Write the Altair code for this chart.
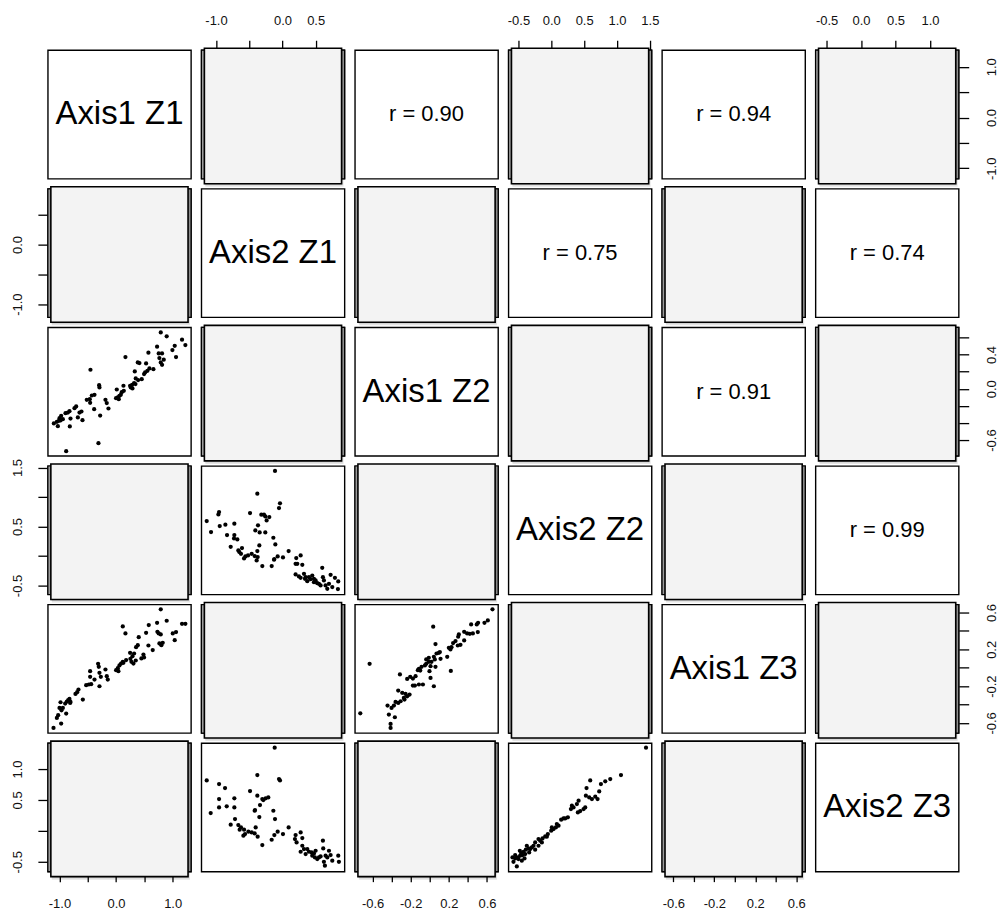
import altair as alt
import pandas as pd

FONT = "Liberation Sans"

VARS = ["Axis1 Z1", "Axis2 Z1", "Axis1 Z2", "Axis2 Z2", "Axis1 Z3", "Axis2 Z3"]
DOMAINS = [[-1.205, 1.325], [-1.22, 0.935], [-0.785, 0.717],
           [-0.652, 1.527], [-0.71, 0.687], [-0.66, 1.418]]
TICKS = [[-1.0, -0.5, 0.0, 0.5, 1.0],
         [-1.0, -0.5, 0.0, 0.5],
         [-0.6, -0.4, -0.2, 0.0, 0.2, 0.4, 0.6],
         [-0.5, 0.0, 0.5, 1.0, 1.5],
         [-0.6, -0.4, -0.2, 0.0, 0.2, 0.4, 0.6],
         [-0.5, 0.0, 0.5, 1.0]]
# labels shown on the x (top/bottom) and y (left/right) axes
XLABELS = [[-1.0, 0.0, 1.0], [-1.0, 0.0, 0.5], [-0.6, -0.2, 0.2, 0.6],
           [-0.5, 0.0, 0.5, 1.0, 1.5], [-0.6, -0.2, 0.2, 0.6], [-0.5, 0.0, 0.5, 1.0]]
YLABELS = [[-1.0, 0.0, 1.0], [-1.0, 0.0], [-0.6, 0.0, 0.4],
           [-0.5, 0.5, 1.5], [-0.6, -0.2, 0.2, 0.6], [-0.5, 0.5, 1.0]]

R_TEXT = {(0, 2): "r = 0.90", (0, 4): "r = 0.94", (1, 3): "r = 0.75",
          (1, 5): "r = 0.74", (2, 4): "r = 0.91", (3, 5): "r = 0.99"}

# Axis1 Z1 (x) vs Axis1 Z2 (y)
a_x = [0.79, 0.895, 1.166, 1.225, 0.725, 1.037, 0.996, 1.06, 0.572, 0.754, 0.813, 0.766, 0.843, 0.79, 0.813,
       0.166, 0.531, 0.384, 0.413, -0.452, 0.66, 0.59, 0.554, 0.513, 0.495, 0.331, 0.348, 0.454, 0.39, 0.319,
       0.343, 0.284, 0.26, 0.29, 0.248, 0.131, 0.137, 0.101, 0.013, 0.031, 0.06, 0.048, 0.0, 0.084, -0.299,
       -0.293, -0.381, -0.428, -0.464, -0.517, -0.458, -0.387, -0.187, -0.164, -0.134, -0.281, -0.311, -0.705,
       -0.734, -0.611, -0.646, -0.675, -0.593, -0.823, -0.852, -0.893, -0.97, -0.999, -1.011, -1.046, -1.099,
       -1.028, -0.817, -0.805, -0.881, -0.94, -0.981]
a_y = [0.658, 0.612, 0.573, 0.51, 0.491, 0.502, 0.452, 0.37, 0.421, 0.413, 0.413, 0.358, 0.339, 0.307, 0.28,
       0.37, 0.296, 0.307, 0.3, 0.222, 0.229, 0.237, 0.21, 0.19, 0.171, 0.202, 0.12, 0.112, 0.101, 0.066,
       0.054, 0.046, 0.015, 0.003, 0.035, 0.035, -0.024, -0.04, -0.009, -0.102, -0.083, -0.122, -0.11, -0.071,
       0.042, 0.015, -0.071, -0.079, -0.122, -0.129, -0.164, -0.239, -0.129, -0.168, -0.231, -0.313, -0.636,
       -0.207, -0.227, -0.266, -0.278, -0.336, -0.367, -0.262, -0.278, -0.286, -0.317, -0.344, -0.375, -0.387,
       -0.406, -0.437, -0.441, -0.348, -0.73, -0.356, -0.371]

# Axis2 Z1 (x) vs Axis2 Z2 (y)
b_x = [-0.112, -0.378, -0.037, -0.052, -0.488, -0.954, -0.964, -0.278, -0.318, -0.258, -0.198, -0.238, -0.368,
       -1.14, -1.075, -0.944, -0.859, -0.724, -0.834, -0.724, -0.729, -0.679, -0.779, -0.408, -0.343, -0.258,
       -0.137, -0.107, -0.348, -0.378, -0.388, -0.303, -0.162, -0.127, -0.072, -0.122, 0.008, 0.093, -0.463,
       -0.518, -0.558, -0.578, -0.624, -0.649, -0.609, -0.664, -0.418, -0.373, 0.208, 0.274, 0.198, 0.223,
       0.299, 0.198, 0.248, 0.274, 0.324, 0.339, 0.374, 0.399, 0.449, 0.474, 0.499, 0.524, 0.549, 0.599, 0.609,
       0.624, 0.649, 0.70, 0.725, 0.75, 0.79, 0.84, 0.835, 0.675, 0.574, 0.474, 0.424, 0.349]
b_y = [1.442, 1.057, 0.893, 0.814, 0.729, 0.746, 0.706, 0.701, 0.701, 0.672, 0.661, 0.604, 0.52, 0.593, 0.406,
       0.508, 0.531, 0.548, 0.355, 0.355, 0.299, 0.282, 0.157, 0.435, 0.401, 0.401, 0.31, 0.197, 0.18, 0.084,
       -0.075, -0.171, -0.171, -0.063, -0.007, -0.052, -0.024, 0.084, 0.038, 0.01, -0.007, -0.041, 0.038,
       0.067, 0.135, 0.095, 0.0, -0.018, -0.035, 0.01, -0.131, -0.131, -0.148, -0.312, -0.346, -0.369, -0.301,
       -0.386, -0.426, -0.358, -0.33, -0.386, -0.414, -0.46, -0.471, -0.199, -0.358, -0.414, -0.499, -0.471,
       -0.318, -0.527, -0.369, -0.431, -0.561, -0.555, -0.499, -0.443, -0.392, -0.358]

# Axis1 Z1 (x) vs Axis1 Z3 (y)
c_x = [0.79, 0.895, 0.725, 0.578, 1.166, 1.225, 1.06, 1.002, 1.037, 0.531, 0.731, 0.754, 0.79, 0.766, 0.801,
       0.825, 0.119, 0.166, 0.401, 0.572, 0.648, 0.484, 0.495, 0.448, 0.384, 0.354, 0.319, 0.29, 0.272, 0.307,
       0.348, 0.254, 0.248, 0.178, 0.119, 0.089, 0.06, 0.031, 0.001, 0.042, 0.13, -0.317, -0.305, -0.293,
       -0.269, -0.293, -0.187, -0.164, -0.146, -0.458, -0.458, -0.381, -0.44, -0.481, -0.528, -0.664, -0.687,
       -0.717, -0.587, -0.823, -0.846, -0.87, -0.899, -0.811, -0.981, -0.999, -0.94, -0.964, -0.881, -1.023,
       -1.046, -0.97, -1.105, -0.805]
c_y = [0.635, 0.511, 0.489, 0.464, 0.478, 0.478, 0.388, 0.373, 0.3, 0.38, 0.391, 0.373, 0.362, 0.264, 0.246,
       0.271, 0.449, 0.373, 0.333, 0.242, 0.192, 0.144, 0.112, 0.101, 0.246, 0.224, 0.155, 0.126, 0.064, 0.046,
       0.079, 0.097, 0.162, 0.083, 0.064, 0.046, 0.025, -0.004, -0.026, -0.037, 0.054, 0.043, 0.01, -0.055,
       -0.099, -0.201, -0.019, -0.092, -0.128, -0.037, -0.099, -0.128, -0.179, -0.182, -0.19, -0.237, -0.266,
       -0.284, -0.346, -0.339, -0.353, -0.368, -0.389, -0.382, -0.375, -0.437, -0.437, -0.462, -0.498, -0.516,
       -0.545, -0.607, -0.654, -0.371]

# Axis1 Z2 (x) vs Axis1 Z3 (y)
d_x = [0.658, 0.609, 0.574, 0.507, 0.493, 0.434, 0.504, 0.452, 0.42, 0.392, 0.361, 0.305, 0.298, 0.27, 0.245,
       0.228, 0.2, 0.217, 0.294, 0.322, 0.361, 0.036, 0.06, 0.095, 0.071, 0.113, 0.183, 0.106, 0.043, 0.053,
       0.018, -0.01, -0.037, -0.051, -0.086, -0.114, -0.125, -0.1, 0.008, 0.06, 0.221, -0.003, 0.008, 0.043,
       -0.149, -0.177, -0.205, -0.237, -0.072, -0.114, -0.156, -0.177, -0.254, -0.212, -0.237, -0.272, -0.289,
       -0.331, -0.313, -0.306, -0.331, -0.359, -0.376, -0.401, -0.443, -0.429, -0.366, -0.411, -0.411, -0.631,
       -0.729, -0.265, -0.037, -0.01]
d_y = [0.635, 0.515, 0.489, 0.489, 0.471, 0.471, 0.388, 0.373, 0.369, 0.373, 0.391, 0.362, 0.337, 0.29, 0.268,
       0.224, 0.217, 0.199, 0.242, 0.25, 0.297, 0.446, 0.257, 0.162, 0.155, 0.097, 0.119, 0.17, 0.119, 0.09,
       0.064, 0.064, 0.043, 0.025, 0.01, -0.012, -0.026, -0.03, 0.017, 0.01, -0.034, -0.037, -0.11, -0.201,
       -0.092, -0.117, -0.099, -0.121, -0.182, -0.182, -0.193, -0.193, -0.284, -0.291, -0.31, -0.328, -0.273,
       -0.248, -0.073, -0.364, -0.382, -0.371, -0.411, -0.437, -0.411, -0.509, -0.538, -0.611, -0.654, 0.043,
       -0.495, -0.346, 0.09, 0.108]

# Axis2 Z1 (x) vs Axis2 Z3 (y)
e_x = [-0.117, -0.378, -0.052, -0.037, -1.14, -0.954, -0.864, -0.488, -1.08, -0.954, -0.954, -0.839, -0.724,
       -0.724, -0.378, -0.338, -0.253, -0.213, -0.303, -0.288, -0.418, -0.348, -0.413, -0.137, -0.112, -0.403,
       -0.303, -0.162, -0.122, -0.072, 0.008, 0.093, -0.779, -0.714, -0.664, -0.624, -0.644, -0.578, -0.563,
       -0.513, -0.463, -0.418, -0.373, -0.588, 0.198, 0.274, 0.188, 0.213, 0.299, 0.299, 0.274, 0.324, 0.349,
       0.399, 0.474, 0.499, 0.449, 0.524, 0.549, 0.609, 0.614, 0.70, 0.725, 0.75, 0.84, 0.85, 0.649, 0.624,
       0.639, 0.574, 0.675, 0.489, 0.439, 0.374]
e_y = [1.345, 0.902, 0.838, 0.816, 0.816, 0.757, 0.692, 0.644, 0.288, 0.514, 0.379, 0.396, 0.525, 0.379, 0.568,
       0.417, 0.525, 0.541, 0.514, 0.498, 0.325, 0.223, 0.336, 0.325, 0.191, 0.056, -0.23, -0.144, -0.068,
       -0.014, -0.052, 0.056, 0.099, 0.191, 0.094, 0.056, 0.018, 0.018, -0.052, -0.014, -0.025, -0.041, -0.095,
       -0.079, -0.068, -0.025, -0.133, -0.187, -0.117, -0.241, -0.338, -0.295, -0.376, -0.338, -0.365, -0.322,
       -0.402, -0.456, -0.43, -0.16, -0.284, -0.322, -0.392, -0.483, -0.402, -0.5, -0.402, -0.5, -0.564, -0.413,
       -0.43, -0.43, -0.349, -0.295]

# Axis2 Z2 (x) vs Axis2 Z3 (y)
f_x = [1.441, 1.06, 0.897, 0.821, 0.755, 0.729, 0.592, 0.536, 0.526, 0.577, 0.618, 0.669, 0.704, 0.516, 0.415,
       0.389, 0.338, 0.298, 0.404, 0.252, 0.186, 0.15, 0.11, 0.069, 0.034, -0.002, -0.053, -0.093, -0.134,
       -0.169, -0.195, -0.246, -0.271, -0.296, -0.347, -0.388, -0.423, -0.459, -0.474, -0.51, -0.55, -0.576,
       -0.525, -0.449, -0.408, -0.5, -0.373, -0.322, -0.068, 0.008, 0.084, 0.211, 0.313, 0.491, 0.44, -0.195,
       -0.144, -0.246, -0.337, -0.439, -0.479, -0.55, -0.591, -0.398]
f_y = [1.345, 0.902, 0.838, 0.8, 0.757, 0.638, 0.816, 0.692, 0.568, 0.541, 0.514, 0.552, 0.514, 0.379, 0.487,
       0.433, 0.379, 0.352, 0.298, 0.218, 0.201, 0.18, 0.083, 0.056, 0.029, 0.002, -0.052, -0.09, -0.122, -0.16,
       -0.241, -0.187, -0.241, -0.268, -0.284, -0.305, -0.338, -0.359, -0.402, -0.43, -0.392, -0.5, -0.575,
       -0.483, -0.446, -0.456, -0.241, -0.295, -0.095, 0.056, 0.11, 0.201, 0.406, 0.352, 0.32, -0.133, -0.187,
       -0.305, -0.349, -0.392, -0.322, -0.446, -0.43, -0.376]

SCATTER = {(2, 0): (a_x, a_y), (3, 1): (b_x, b_y), (4, 0): (c_x, c_y),
           (4, 2): (d_x, d_y), (5, 1): (e_x, e_y), (5, 3): (f_x, f_y)}

W, H = 143.6, 128.9


def make_axis(labels, ticks, orient):
    lab_list = "[" + ",".join(repr(float(v)) for v in labels) + "]"
    expr = ("indexof(" + lab_list + ", datum.value) >= 0 ? "
            "(datum.value < 0 ? '-' : '') + format(abs(datum.value), '.1f') : ''")
    kw = dict(values=ticks, labelExpr=expr, orient=orient, domain=False, grid=False,
              ticks=True, tickSize=10, tickWidth=1.3, tickColor="black",
              labelFont=FONT, labelFontSize=13, labelColor="#111111",
              labelFlush=False, labelOverlap=False, title=None)
    if orient == "left":
        kw.update(labelAngle=270, labelAlign="center", labelBaseline="middle", labelPadding=20)
    elif orient == "right":
        kw.update(labelAngle=270, labelAlign="center", labelBaseline="middle", labelPadding=23)
    elif orient == "top":
        kw.update(labelAngle=0, labelAlign="center", labelBaseline="bottom", labelPadding=13)
    else:
        kw.update(labelAngle=0, labelAlign="center", labelBaseline="top", labelPadding=16)
    return alt.Axis(**kw)


def panel(i, j):
    xo = "top" if (i == 0 and j % 2 == 1) else ("bottom" if (i == 5 and j % 2 == 0) else None)
    yo = "left" if (j == 0 and i % 2 == 1) else ("right" if (j == 5 and i % 2 == 0) else None)
    xaxis = make_axis(XLABELS[j], TICKS[j], xo) if xo else None
    yaxis = make_axis(YLABELS[i], TICKS[i], yo) if yo else None
    xs = alt.Scale(domain=DOMAINS[j], nice=False, zero=False)
    ys = alt.Scale(domain=DOMAINS[i], nice=False, zero=False)
    X = alt.X("x:Q", scale=xs, axis=xaxis)
    Y = alt.Y("y:Q", scale=ys, axis=yaxis)

    if (i, j) in SCATTER:
        px, py = SCATTER[(i, j)]
        df = pd.DataFrame({"x": px, "y": py})
        return alt.Chart(df).mark_circle(size=18, color="black", opacity=1).encode(
            x=X, y=Y).properties(width=W, height=H)

    if i == j:
        label, fs = VARS[i], 33
    elif (i, j) in R_TEXT:
        label, fs = R_TEXT[(i, j)], 22
    else:
        label, fs = "", 0

    mid = pd.DataFrame({"x": [sum(DOMAINS[j]) / 2], "y": [sum(DOMAINS[i]) / 2], "label": [label]})
    base = alt.Chart(mid)
    if label:
        txt = base.mark_text(font=FONT, fontSize=fs, color="black", align="center",
                             baseline="middle").encode(x=X, y=Y, text="label:N")
        return txt.properties(width=W, height=H)

    plate = base.mark_rect(fill="#9c9c9c", stroke="black", strokeWidth=1.2).encode(
        x=alt.value(0), x2=alt.value(W), y=alt.value(0), y2=alt.value(H))
    shadow1 = base.mark_rect(fill="black", opacity=0.10).encode(
        x=alt.value(4), x2=alt.value(W - 1), y=alt.value(0), y2=alt.value(H + 8))
    shadow2 = base.mark_rect(fill="black", opacity=0.10).encode(
        x=alt.value(3.5), x2=alt.value(W - 2), y=alt.value(-1), y2=alt.value(H + 6.5))
    inner = base.mark_rect(fill="#f3f3f3", stroke="black", strokeWidth=1.6).encode(
        x=alt.value(3), x2=alt.value(W - 3), y=alt.value(-2), y2=alt.value(H + 5))
    carrier = base.mark_point(opacity=0).encode(x=X, y=Y)
    return alt.layer(plate, shadow1, shadow2, inner, carrier).properties(width=W, height=H)


panels = [panel(i, j) for i in range(6) for j in range(6)]

chart = alt.concat(*panels, columns=6, spacing=10).properties(
    bounds="flush",
    padding={"left": 11, "top": 12, "right": 2, "bottom": 2},
    background="white",
).configure_view(stroke="black", strokeWidth=1.4, fill="white")

chart.save("out.html", embed_options={"renderer": "svg", "actions": False})
